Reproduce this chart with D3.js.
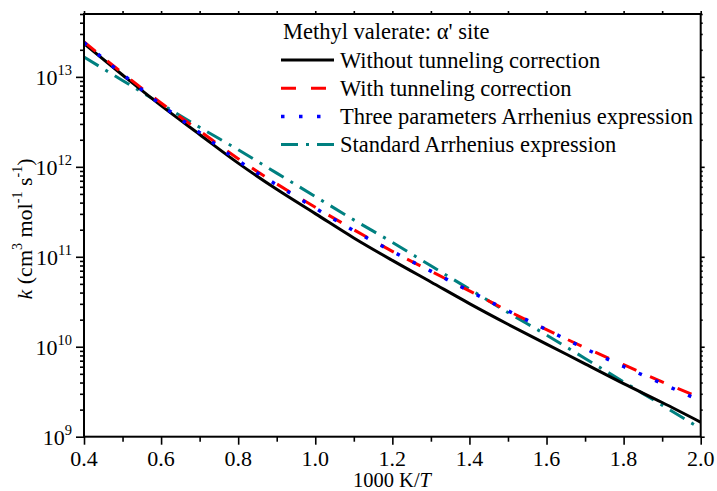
<!DOCTYPE html>
<html>
<head>
<meta charset="utf-8">
<script src="https://cdn.jsdelivr.net/npm/d3@7"></script>
<style>
  body { margin: 0; background: #fff; }
  svg { font-family: "Liberation Serif", "Times New Roman", serif; }
</style>
</head>
<body>
<svg id="chart" width="717" height="491"></svg>
<script>
// 1000 K/T
const invT = [0.4, 0.5, 0.6, 0.7, 0.8, 0.9, 1.0, 1.1, 1.2, 1.3, 1.4, 1.5, 1.6, 1.7, 1.8, 1.9, 2.0];
// k (cm3 mol-1 s-1)
const kNoTunnel = [2.34e13, 1.05e13, 4.79e12, 2.29e12, 1.10e12, 5.62e11, 3.02e11, 1.62e11, 9.12e10,
  5.25e10, 3.02e10, 1.78e10, 1.07e10, 6.46e9, 3.89e9, 2.40e9, 1.45e9];
const kTunnel = [2.45e13, 1.10e13, 5.13e12, 2.51e12, 1.23e12, 6.46e11, 3.55e11, 2.00e11, 1.15e11,
  6.92e10, 4.17e10, 2.51e10, 1.55e10, 9.77e9, 6.31e9, 4.07e9, 2.69e9];
const kThreeParam = [2.40e13, 1.07e13, 4.90e12, 2.40e12, 1.17e12, 6.31e11, 3.47e11, 1.95e11, 1.15e11,
  6.92e10, 4.17e10, 2.51e10, 1.55e10, 9.55e9, 6.03e9, 3.89e9, 2.51e9];
const kStandard = [1.66e13, 9.12e12, 5.01e12, 2.75e12, 1.55e12, 8.51e11, 4.68e11, 2.57e11, 1.45e11,
  7.94e10, 4.37e10, 2.40e10, 1.35e10, 7.41e9, 4.07e9, 2.24e9, 1.23e9];

const xTicks = [0.4, 0.6, 0.8, 1.0, 1.2, 1.4, 1.6, 1.8, 2.0];
const yExps = [9, 10, 11, 12, 13];
const legendTitle = "Methyl valerate: \u03b1' site";
const seriesNames = ['Without tunneling correction', 'With tunneling correction',
  'Three parameters Arrhenius expression', 'Standard Arrhenius expression'];

const series = [
  { name: seriesNames[0], values: kNoTunnel, color: '#000000', dash: null, width: 3 },
  { name: seriesNames[1], values: kTunnel, color: '#ff0000', dash: '15,15', width: 3 },
  { name: seriesNames[2], values: kThreeParam, color: '#0000ff', dash: '3.5,14.5', width: 3.5 },
  { name: seriesNames[3], values: kStandard, color: '#008080', dash: '17,8,3,8', width: 3 }
];

const svg = d3.select('#chart');
const mLeft = 84, mRight = 700.7, mTop = 14, mBottom = 436.7;

const x = d3.scaleLinear().domain([0.4, 2.0]).range([mLeft, mRight]);
const y = d3.scaleLog().domain([1e9, 5e13]).range([mBottom, mTop]);

// minor tick values for the log axis
const minorY = [];
for (let e = 9; e <= 13; e++) {
  for (let m = 2; m <= 9; m++) {
    const v = m * Math.pow(10, e);
    if (v <= 5e13) minorY.push(v);
  }
}
const majorY = yExps.map(e => Math.pow(10, e));
const minorX = d3.range(0.5, 2.0, 0.2).map(v => +v.toFixed(1));

// curves, clipped to plot area
svg.append('defs').append('clipPath').attr('id', 'clip')
  .append('rect').attr('x', mLeft).attr('y', mTop).attr('width', mRight - mLeft).attr('height', mBottom - mTop);

const line = d3.line()
  .x((d, i) => x(invT[i]))
  .y(d => y(d))
  .curve(d3.curveMonotoneX);

const plot = svg.append('g').attr('clip-path', 'url(#clip)');
// draw standard first so the others sit on top like the reference
[series[3], series[0], series[1], series[2]].forEach(s => {
  plot.append('path')
    .datum(s.values)
    .attr('fill', 'none')
    .attr('stroke', s.color)
    .attr('stroke-width', s.width)
    .attr('stroke-dasharray', s.dash)
    .attr('d', line);
});

// axes
const axisColor = '#000';
function styleAxis(g) {
  g.select('.domain').remove();
  g.selectAll('.tick line').attr('stroke', axisColor).attr('stroke-width', 1.6);
  g.selectAll('.tick text').remove();
}

svg.append('g').attr('transform', `translate(0,${mBottom})`)
  .call(d3.axisBottom(x).tickValues(xTicks).tickSize(8)).call(styleAxis);
svg.append('g').attr('transform', `translate(0,${mBottom})`)
  .call(d3.axisBottom(x).tickValues(minorX).tickSize(5)).call(styleAxis);
svg.append('g').attr('transform', `translate(0,${mTop})`)
  .call(d3.axisTop(x).tickValues(xTicks.concat(minorX)).tickSize(3)).call(styleAxis);

svg.append('g').attr('transform', `translate(${mLeft},0)`)
  .call(d3.axisLeft(y).tickValues(majorY).tickSize(8)).call(styleAxis);
svg.append('g').attr('transform', `translate(${mLeft},0)`)
  .call(d3.axisLeft(y).tickValues(minorY).tickSize(4)).call(styleAxis);
svg.append('g').attr('transform', `translate(${mRight},0)`)
  .call(d3.axisRight(y).tickValues(majorY).tickSize(4)).call(styleAxis);
svg.append('g').attr('transform', `translate(${mRight},0)`)
  .call(d3.axisRight(y).tickValues(minorY).tickSize(2)).call(styleAxis);

// frame
svg.append('rect')
  .attr('x', mLeft).attr('y', mTop)
  .attr('width', mRight - mLeft).attr('height', mBottom - mTop)
  .attr('fill', 'none').attr('stroke', axisColor).attr('stroke-width', 2);

// x tick labels
svg.append('g').selectAll('text')
  .data(xTicks)
  .enter()
  .append('text')
  .attr('x', d => x(d))
  .attr('y', mBottom + 29)
  .attr('text-anchor', 'middle')
  .attr('font-size', 22)
  .text(d => d.toFixed(1));

// y tick labels 10^n
const yLab = svg.append('g').selectAll('text')
  .data(yExps)
  .enter()
  .append('text')
  .attr('x', mLeft - 12)
  .attr('y', d => y(Math.pow(10, d)) + 8)
  .attr('text-anchor', 'end')
  .attr('font-size', 22);
yLab.append('tspan').text('10');
yLab.append('tspan').attr('font-size', 14.5).attr('dy', -10).text(d => d);

// axis titles
const xt = svg.append('text')
  .attr('x', 392).attr('y', 487)
  .attr('text-anchor', 'middle')
  .attr('font-size', 20.5);
xt.append('tspan').text('1000 K/');
xt.append('tspan').attr('font-style', 'italic').text('T');

const yt = svg.append('text')
  .attr('transform', 'translate(32,229) rotate(-90)')
  .attr('text-anchor', 'middle')
  .attr('font-size', 22);
yt.append('tspan').attr('font-style', 'italic').text('k');
yt.append('tspan').text(' (cm');
yt.append('tspan').attr('font-size', 14).attr('dy', -10).text('3');
yt.append('tspan').attr('dy', 10).text(' mol');
yt.append('tspan').attr('font-size', 14).attr('dy', -10).text('-1');
yt.append('tspan').attr('dy', 10).text(' s');
yt.append('tspan').attr('font-size', 14).attr('dy', -10).text('-1');
yt.append('tspan').attr('dy', 10).text(')');

// legend
const legend = svg.append('g').attr('class', 'legend');
legend.append('text')
  .attr('x', 283).attr('y', 39)
  .attr('font-size', 22.5)
  .text(legendTitle);
const rows = legend.selectAll('g.row')
  .data(series)
  .enter()
  .append('g')
  .attr('class', 'row')
  .attr('transform', (d, i) => `translate(0,${60 + i * 28.2})`);
rows.append('line')
  .attr('x1', 281).attr('x2', 334)
  .attr('y1', 0).attr('y2', 0)
  .attr('stroke', d => d.color)
  .attr('stroke-width', d => d.width)
  .attr('stroke-dasharray', d => d.dash);
rows.append('text')
  .attr('x', 340).attr('y', 7.5)
  .attr('font-size', 22.5)
  .text(d => d.name);
</script>
</body>
</html>
